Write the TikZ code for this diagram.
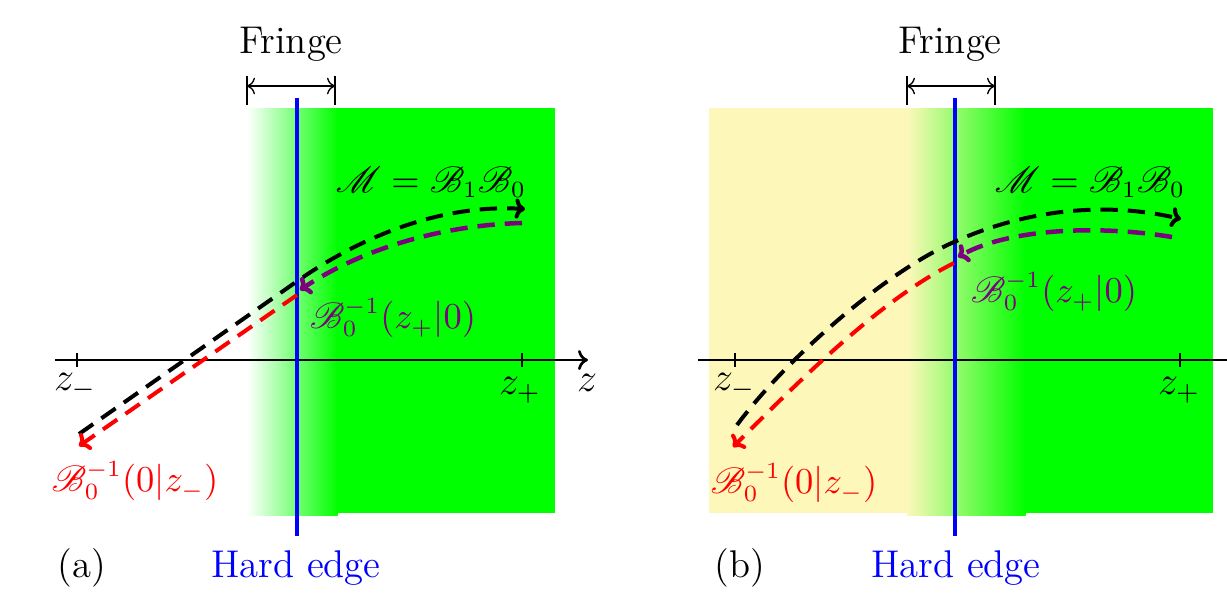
\documentclass[tikz,border=0pt]{standalone}
\usepackage{mathrsfs}
\usetikzlibrary{arrows.meta}
\definecolor{paleyellow}{RGB}{253,248,186}
\definecolor{traj purple}{RGB}{125,0,125}
\begin{document}
\begin{tikzpicture}[x=0.3pt,y=-0.3pt,
  lbl/.style={font=\fontsize{11.6}{13.9}\selectfont, inner sep=0pt},
  mlbl/.style={font=\fontsize{10.7}{12.8}\selectfont, inner sep=0pt},
  traj/.style={line width=1.2pt, dash pattern=on 5.2pt off 3pt, -{To[length=3pt,width=6pt]}},
  axisline/.style={line width=0.8pt},
  hardedge/.style={blue, line width=1.2pt},
  bracket/.style={line width=0.4pt}
]
\useasboundingbox (0,0) rectangle (1227,594);
% ---------------- panel (a) ----------------
\fill[green] (337,108) rectangle (555,513);
\shade[left color=white, right color=green] (247,108) rectangle (337.5,515);
% fringe bracket
\coordinate (aFl) at (247,86); \coordinate (aFr) at (335,86);
\draw[bracket] (247,76) -- (247,105);
\draw[bracket] (335,76) -- (335,105);
\draw[bracket, {To[length=2.4pt,width=5pt]}-{To[length=2.4pt,width=5pt]}] (aFl) -- (aFr);
\node[lbl] (aFringe) at (291,44) {Fringe};
% axis
\coordinate (aAx0) at (55,360); \coordinate (aAx1) at (588,360);
\draw[axisline, -{To[length=3pt,width=6pt]}] (aAx0) -- (aAx1);
\draw[axisline] (77,353) -- (77,367);
\draw[line width=0.4pt] (522,353) -- (522,367);
\node[lbl] (azm) at (75,386) {$z_-$};
\node[lbl] (azp) at (520,390) {$z_+$};
\node[lbl] (az) at (587,383) {$z$};
% hard edge
\coordinate (aHt) at (297,98); \coordinate (aHb) at (297,536);
\draw[hardedge] (aHt) -- (aHb);
% trajectories
\coordinate (aS) at (79,434);
\coordinate (aE) at (296,282);
\coordinate (aT) at (525,209);
\draw[traj, black] (aS) -- (aE) .. controls (360,237) and (440,204) .. (aT);
\coordinate (aPs) at (522,223);
\coordinate (aPe) at (300,290);
\draw[traj, traj purple, line width=1.35pt] (aPs) .. controls (440,225) and (360,250) .. (aPe);
\coordinate (aRs) at (297,295);
\coordinate (aRe) at (79,446);
\draw[traj, red] (aRs) -- (aRe);
% labels
\node[mlbl] (aM) at (431,182) {$\mathscr{M}=\mathscr{B}_1\mathscr{B}_0$};
\node[mlbl, traj purple] (aP) at (393,318) {$\mathscr{B}_0^{-1}(z_+|0)$};
\node[mlbl, red] (aR) at (135,481) {$\mathscr{B}_0^{-1}(0|z_-)$};
\node[lbl] (alab) at (82,568) {(a)};
\node[lbl, blue] (aHE) at (296,568) {Hard edge};
% ---------------- panel (b) ----------------
\fill[paleyellow] (709,108) rectangle (907,513);
\fill[green] (1025,108) rectangle (1213,513);
\shade[left color=paleyellow, right color=green] (907,108) rectangle (1025.5,515);
\coordinate (bFl) at (907,86); \coordinate (bFr) at (995,86);
\draw[bracket] (907,76) -- (907,105);
\draw[bracket] (995,76) -- (995,105);
\draw[bracket, {To[length=2.4pt,width=5pt]}-{To[length=2.4pt,width=5pt]}] (bFl) -- (bFr);
\node[lbl] (bFringe) at (950,44) {Fringe};
\coordinate (bAx0) at (698,360); \coordinate (bAx1) at (1227,360);
\draw[axisline] (bAx0) -- (bAx1);
\draw[axisline] (735,353) -- (735,367);
\draw[line width=0.4pt] (1180,353) -- (1180,367);
\node[lbl] (bzm) at (734,386) {$z_-$};
\node[lbl] (bzp) at (1179,390) {$z_+$};
\coordinate (bHt) at (955,98); \coordinate (bHb) at (955,536);
\draw[hardedge] (bHt) -- (bHb);
\coordinate (bS) at (737,425);
\coordinate (bE) at (954,242);
\coordinate (bT) at (1181,219);
\draw[traj, black] (bS) .. controls (785,360) and (885,272) .. (bE) .. controls (1020,212) and (1100,200) .. (bT);
\coordinate (bPs) at (1172,237);
\coordinate (bPe) at (958,257);
\draw[traj, traj purple, line width=1.35pt] (bPs) .. controls (1100,225) and (1010,228) .. (bPe);
\coordinate (bRs) at (954,263);
\coordinate (bRe) at (733,447);
\draw[traj, red] (bRs) .. controls (880,300) and (800,380) .. (bRe);
\node[mlbl] (bM) at (1090,182) {$\mathscr{M}=\mathscr{B}_1\mathscr{B}_0$};
\node[mlbl, traj purple] (bP) at (1054,292) {$\mathscr{B}_0^{-1}(z_+|0)$};
\node[mlbl, red] (bR) at (794,483) {$\mathscr{B}_0^{-1}(0|z_-)$};
\node[lbl] (blab) at (740,568) {(b)};
\node[lbl, blue] (bHE) at (956,568) {Hard edge};
\end{tikzpicture}
\end{document}
